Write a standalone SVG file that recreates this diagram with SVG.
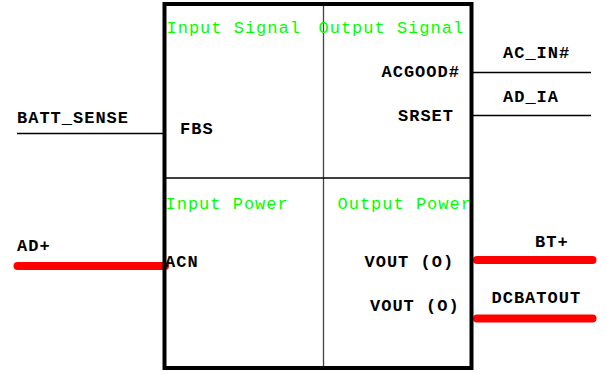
<svg xmlns="http://www.w3.org/2000/svg" width="607" height="374" viewBox="0 0 607 374">
<style>
text{font-family:"Liberation Mono","Courier New",monospace;font-weight:bold;font-size:17px;letter-spacing:1px;fill:#000}
.sec{fill:#00ff00;font-weight:normal}
.wire{stroke:#000;stroke-width:1.4;fill:none}
.pwr{stroke:#ff0000;stroke-width:8;stroke-linecap:round;fill:none}
</style>
<rect width="607" height="374" fill="#fff"/>
<g id="connectors">
<line class="wire" x1="17" y1="133.5" x2="164" y2="133.5"/>
<line class="wire" x1="472" y1="72.5" x2="591" y2="72.5"/>
<line class="wire" x1="472" y1="115.5" x2="591" y2="115.5"/>
<line class="pwr" x1="17.5" y1="266" x2="165" y2="266"/>
<line class="pwr" x1="477" y1="260" x2="592.5" y2="260"/>
<line class="pwr" x1="477" y1="318.5" x2="592.5" y2="318.5"/>
</g>
<g id="labels">
<text x="17" y="122.5">BATT_SENSE</text>
<text x="503" y="58">AC_IN#</text>
<text x="503" y="101.5">AD_IA</text>
<text x="17" y="250.5">AD+</text>
<text x="535" y="246.5">BT+</text>
<text x="491.5" y="303">DCBATOUT</text>
</g>
<g id="block">
<line x1="323.5" y1="4" x2="323.5" y2="367" stroke="#444" stroke-width="1.3"/>
<line x1="166" y1="178" x2="470" y2="178" stroke="#000" stroke-width="1.6"/>
<text class="sec" x="166.5" y="33">Input Signal</text>
<text class="sec" x="318.5" y="33">Output Signal</text>
<text class="sec" x="165.5" y="209">Input Power</text>
<text class="sec" x="337.5" y="209">Output Power</text>
<text x="381.5" y="77">ACGOOD#</text>
<text x="398" y="121">SRSET</text>
<text x="180" y="134">FBS</text>
<text x="165" y="267">ACN</text>
<text x="364.5" y="267">VOUT (O)</text>
<text x="370" y="310.5">VOUT (O)</text>
<rect x="164.5" y="4" width="307" height="364" fill="none" stroke="#000" stroke-width="4"/>
</g>
</svg>
